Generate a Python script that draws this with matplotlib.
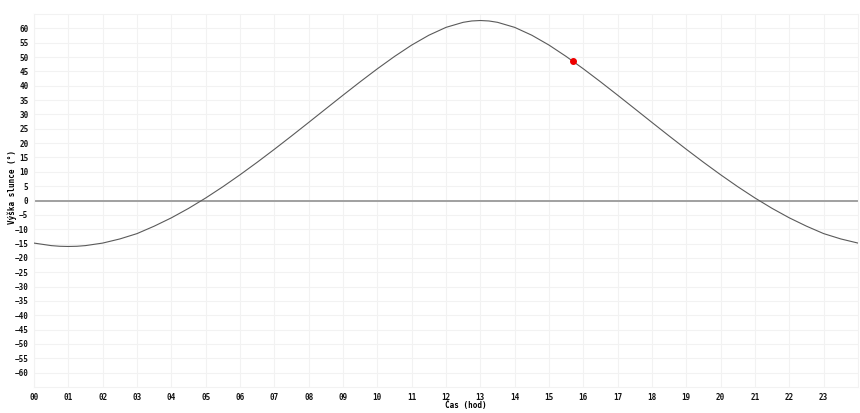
import numpy as np
import matplotlib
matplotlib.use("Agg")
import matplotlib.pyplot as plt

# sun altitude, about every half hour (finer near the peak)
hours = [0.0, 0.5, 0.75, 1.0, 1.25, 1.5, 2.0, 2.5, 3.0, 3.5, 4.0, 4.5, 5.0,
         5.5, 6.0, 6.5, 7.0, 7.5, 8.0, 8.5, 9.0, 9.5, 10.0, 10.5, 11.0, 11.5,
         12.0, 12.5, 12.75, 13.0, 13.25, 13.5, 14.0, 14.5, 15.0, 15.5, 16.0,
         16.5, 17.0, 17.5, 18.0, 18.5, 19.0, 19.5, 20.0, 20.5, 21.0, 21.5,
         22.0, 22.5, 23.0, 23.5, 24.0]
altitude = [-14.84, -15.72, -15.95, -16.02, -15.95, -15.72, -14.84, -13.40,
            -11.54, -8.95, -6.05, -2.76, 0.87, 4.79, 8.96, 13.32, 17.84, 22.48,
            27.2, 31.96, 36.7, 41.37, 45.9, 50.2, 54.17, 57.6, 60.34, 62.1,
            62.57, 62.73, 62.57, 62.1, 60.34, 57.6, 54.17, 50.2, 45.9, 41.37,
            36.7, 31.96, 27.2, 22.48, 17.84, 13.32, 8.96, 4.79, 0.87, -2.76,
            -6.05, -8.95, -11.54, -13.40, -14.84]

now_hour = 15.7
now_alt = 48.7

x_ticks = list(range(0, 24))
x_labels = ["%02d" % h for h in x_ticks]
y_ticks = list(range(-60, 65, 5))

W, H = 860, 413
fig = plt.figure(figsize=(W / 100, H / 100), dpi=100)
left, right, top, bottom = 34, 858, 14, 387
ax = fig.add_axes([left / W, 1 - bottom / H, (right - left) / W, (bottom - top) / H])

grid_c = "#f2f2f2"
ax.set_xlim(0, 24)
ax.set_ylim(-65, 65)
ax.set_xticks(x_ticks)
ax.set_xticklabels(x_labels)
ax.set_yticks(y_ticks)
ax.grid(True, color=grid_c, linewidth=0.8)
ax.set_axisbelow(True)
for s in ax.spines.values():
    s.set_color(grid_c)
    s.set_linewidth(0.8)

tick_font = dict(family="DejaVu Sans Mono", weight="bold", size=5.5)
for lab in ax.get_xticklabels() + ax.get_yticklabels():
    lab.set_fontfamily(tick_font["family"])
    lab.set_fontweight(tick_font["weight"])
    lab.set_fontsize(tick_font["size"])
ax.tick_params(length=0, pad=4, colors="#111111")

ax.axhline(0, color="#a0a0a0", linewidth=1.4, zorder=2)
ax.plot(hours, altitude, color="#5a5a5a", linewidth=0.8, zorder=3)
ax.plot([now_hour], [now_alt], "o", color="#ee0000", markersize=4, zorder=4)

fig.text(445 / W, 1 - 405 / H, "Čas (hod)", ha="left", va="center", **tick_font)
fig.text(12 / W, 1 - 187 / H, "Výška slunce (°)", ha="center", va="center",
         rotation=90, **tick_font)

fig.savefig("out.png", dpi=100, facecolor="white")
